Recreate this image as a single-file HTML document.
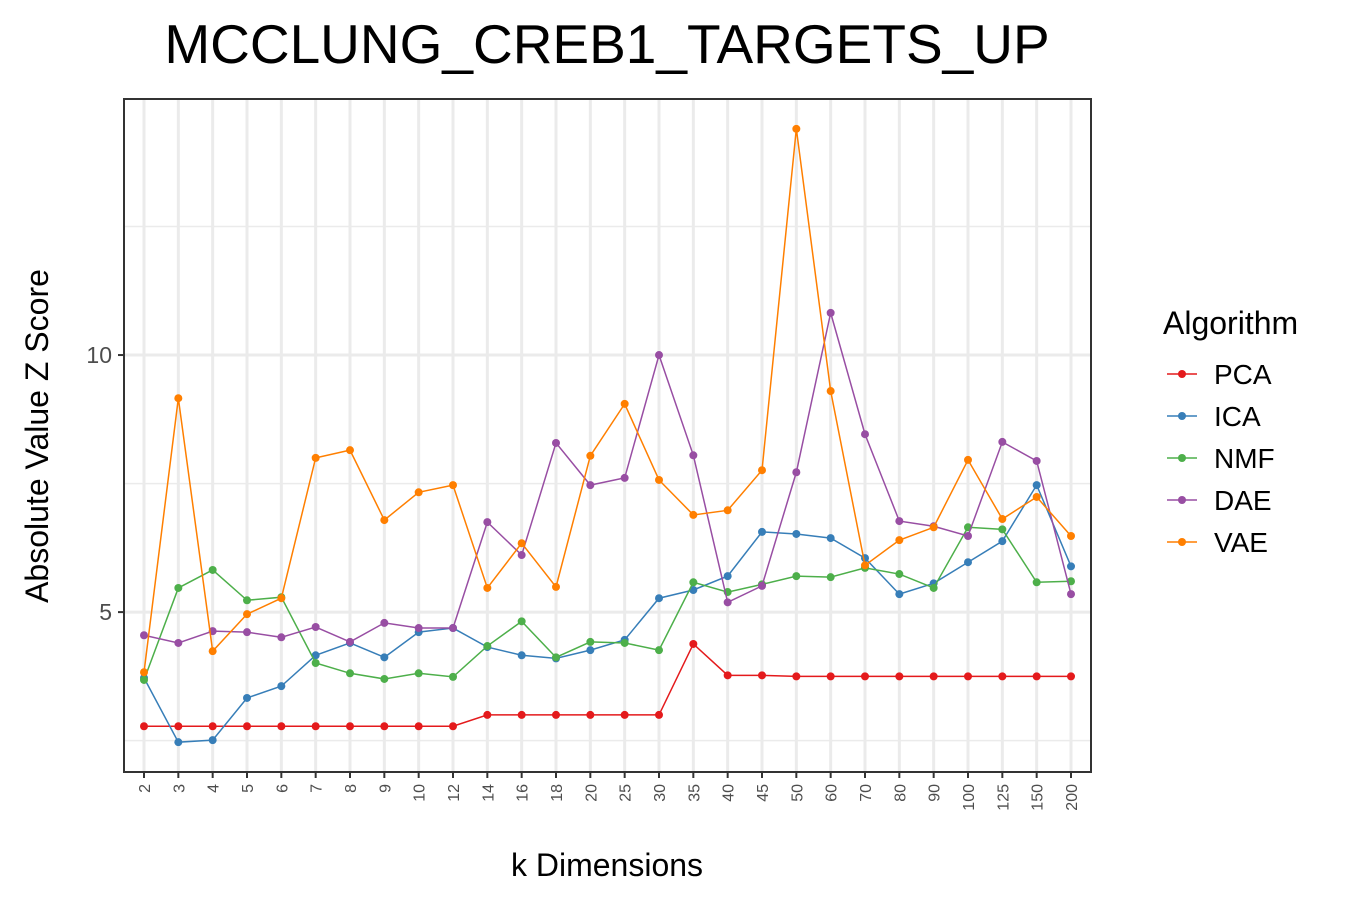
<!DOCTYPE html>
<html><head><meta charset="utf-8"><style>
body{margin:0;background:#fff;font-family:"Liberation Sans",Arial,sans-serif}
svg text{font-family:"Liberation Sans",Arial,sans-serif}
</style></head><body>
<svg id="chart" width="1350" height="900"></svg>
<script>
const categories=["2","3","4","5","6","7","8","9","10","12","14","16","18","20","25","30","35","40","45","50","60","70","80","90","100","125","150","200"];
const seriesNames=["PCA","ICA","NMF","DAE","VAE"];
const seriesColors=["#e41a1c","#377eb8","#4daf4a","#984ea3","#ff7f00"];
const pcaValues=[2.78,2.78,2.78,2.78,2.78,2.78,2.78,2.78,2.78,2.78,3.0,3.0,3.0,3.0,3.0,3.0,4.38,3.77,3.77,3.75,3.75,3.75,3.75,3.75,3.75,3.75,3.75,3.75];
const icaValues=[3.72,2.47,2.51,3.33,3.56,4.16,4.4,4.12,4.61,4.69,4.32,4.16,4.1,4.26,4.46,5.27,5.43,5.7,6.56,6.52,6.44,6.05,5.35,5.56,5.97,6.38,7.47,5.89];
const nmfValues=[3.68,5.47,5.82,5.23,5.29,4.01,3.81,3.7,3.81,3.74,4.34,4.82,4.12,4.42,4.4,4.26,5.58,5.39,5.54,5.7,5.68,5.86,5.74,5.47,6.65,6.61,5.58,5.6];
const daeValues=[4.55,4.4,4.63,4.61,4.51,4.71,4.42,4.79,4.69,4.69,6.75,6.11,8.29,7.47,7.61,10.0,8.05,5.19,5.51,7.72,10.82,8.46,6.77,6.67,6.48,8.31,7.94,5.35];
const vaeValues=[3.83,9.16,4.24,4.96,5.27,8.0,8.15,6.79,7.33,7.47,5.47,6.34,5.49,8.04,9.05,7.57,6.89,6.98,7.76,14.4,9.3,5.91,6.4,6.65,7.96,6.81,7.24,6.48];
const yTicks=[5,10];
const yMinor=[2.5,7.5,12.5];

const allSeries=[pcaValues,icaValues,nmfValues,daeValues,vaeValues];
const NS="http://www.w3.org/2000/svg";
const svg=document.getElementById('chart');
const L=124,R=1091,T=99,B=772;
const yMin=1.89,yMax=14.98;
const x0=144,x1=1071;
function xs(i){return x0+(x1-x0)*i/(categories.length-1);}
function ys(v){return B-(v-yMin)/(yMax-yMin)*(B-T);}
function mk(tag,attrs,parent){const e=document.createElementNS(NS,tag);for(const k in attrs)e.setAttribute(k,attrs[k]);(parent||svg).appendChild(e);return e;}

const grid=mk('g',{});


yMinor.forEach(v=>mk('line',{x1:L,x2:R,y1:ys(v),y2:ys(v),stroke:'#ebebeb','stroke-width':1.5},grid));
yTicks.forEach(v=>mk('line',{x1:L,x2:R,y1:ys(v),y2:ys(v),stroke:'#ebebeb','stroke-width':3},grid));
categories.forEach((c,i)=>mk('line',{x1:xs(i),x2:xs(i),y1:T,y2:B,stroke:'#ebebeb','stroke-width':3},grid));

seriesNames.forEach((n,s)=>{
  const g=mk('g',{});
  
  
  const vals=allSeries[s];
  mk('polyline',{points:vals.map((v,i)=>xs(i)+','+ys(v)).join(' '),fill:'none',stroke:seriesColors[s],'stroke-width':1.5},g);
  vals.forEach((v,i)=>{
    const c=mk('circle',{cx:xs(i),cy:ys(v),r:4,fill:seriesColors[s]},g);
    
    
  });
});

const frame=mk('rect',{x:L,y:T,width:R-L,height:B-T,fill:'none',stroke:'#333','stroke-width':2});



yTicks.forEach(v=>{
  mk('line',{x1:L-6,x2:L,y1:ys(v),y2:ys(v),stroke:'#333','stroke-width':2});
  const t=mk('text',{x:L-12,y:ys(v)+8,'text-anchor':'end','font-size':23,fill:'#4d4d4d'});
  t.textContent=v;
  
  
});
categories.forEach((c,i)=>{
  mk('line',{x1:xs(i),x2:xs(i),y1:B,y2:B+6,stroke:'#333','stroke-width':2});
  const t=mk('text',{x:0,y:0,'text-anchor':'end','font-size':16,fill:'#4d4d4d',transform:`translate(${xs(i)+6},${B+12}) rotate(-90)`});
  t.textContent=c;
  
  
});

let t=mk('text',{x:607,y:63,'text-anchor':'middle','font-size':55,fill:'#000'});
t.textContent='MCCLUNG_CREB1_TARGETS_UP';


t=mk('text',{x:607,y:876,'text-anchor':'middle','font-size':32,fill:'#000'});
t.textContent='k Dimensions';


t=mk('text',{x:0,y:0,'text-anchor':'middle','font-size':32,fill:'#000',transform:'translate(48,436) rotate(-90)'});
t.textContent='Absolute Value Z Score';



const lg=mk('g',{});


t=mk('text',{x:1163,y:334,'font-size':32,fill:'#000'},lg);
t.textContent='Algorithm';


seriesNames.forEach((n,s)=>{
  const y=374+s*42;
  const e=mk('g',{},lg);
  
  
  mk('line',{x1:1167,x2:1197,y1:y,y2:y,stroke:seriesColors[s],'stroke-width':1.5},e);
  mk('circle',{cx:1182,cy:y,r:4,fill:seriesColors[s]},e);
  const tt=mk('text',{x:1214,y:y+10,'font-size':28,fill:'#000'},e);
  tt.textContent=n;
});
</script>
</body></html>
